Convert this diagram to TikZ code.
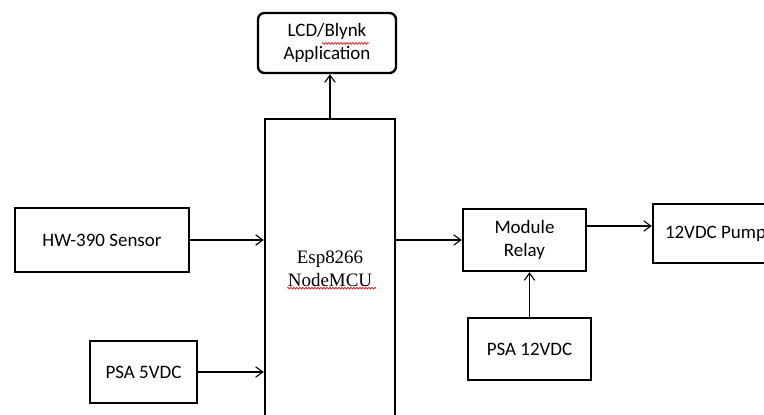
\documentclass[tikz,border=0pt]{standalone}
\usepackage{fontspec}
\setmainfont{Carlito}
\newfontfamily\mcufont{Liberation Serif}
\usetikzlibrary{
  arrows.meta,
  decorations.pathmorphing
}
\tikzset{
  >={Straight Barb[length=1.8mm, width=2.6mm]},
  line cap=round,
  line join=round,
  block/.style={draw, line width=1.7pt, inner sep=0pt, align=center,
    font=\fontsize{13.5}{16.3}\selectfont},
  roundblock/.style={block, rounded corners=0.16cm},
  link/.style={->, line width=0.8pt},
  spellmark/.style={red!85!black, line width=0.45pt,
    decorate, decoration={snake, segment length=0.075cm, amplitude=0.022cm}}
}

\begin{document}
\begin{tikzpicture}
    \useasboundingbox (0,0) rectangle (19.1,10.35);
    \clip (0,0) rectangle (19.1,10.35);
    % blocks
    \node[roundblock, minimum width=3.45cm, minimum height=1.5cm] (lcd) at (8.175,9.275) {LCD/Blynk\\Application};
    \node[block, minimum width=3.25cm, minimum height=7.5cm,
      font=\mcufont\fontsize{13.5}{16.6}\selectfont] (mcu) at (8.25,3.625) {Esp8266\\NodeMCU};
    \node[block, minimum width=4.35cm, minimum height=1.6cm] (sensor) at (2.55,4.35) {HW-390 Sensor};
    \node[block, minimum width=2.675cm, minimum height=1.55cm] (psafive) at (3.5875,1.05) {PSA 5VDC};
    \node[block, minimum width=3.075cm, minimum height=1.55cm] (relay) at (13.1125,4.35) {Module\\Relay};
    \node[block, minimum width=3.125cm, minimum height=1.475cm] (pump) at (17.8875,4.5125) {12VDC Pump};
    \node[block, minimum width=3.075cm, minimum height=1.55cm] (psatwelve) at (13.2375,1.625) {PSA 12VDC};
    % connections
    \draw[link] (mcu.north) -- (mcu.north |- lcd.south);
    \draw[link] (sensor.east) -- (sensor.east -| mcu.west);
    \draw[link] (psafive.east) -- (psafive.east -| mcu.west);
    \draw[link] (mcu.east |- relay.west) -- (relay.west);
    \draw[link] ([yshift=0.35cm]relay.east) -- ([yshift=0.35cm]relay.east -| pump.west);
    \draw[link] (psatwelve.north) -- (psatwelve.north |- relay.south);
    % spell-check marks
    \draw[spellmark] ([xshift=-0.125cm, yshift=-0.01cm]lcd.center) -- ([xshift=1.05cm, yshift=-0.01cm]lcd.center);
    \draw[spellmark] ([xshift=-1.075cm, yshift=-0.48cm]mcu.center) -- ([xshift=1.15cm, yshift=-0.48cm]mcu.center);
\end{tikzpicture}
\end{document}
